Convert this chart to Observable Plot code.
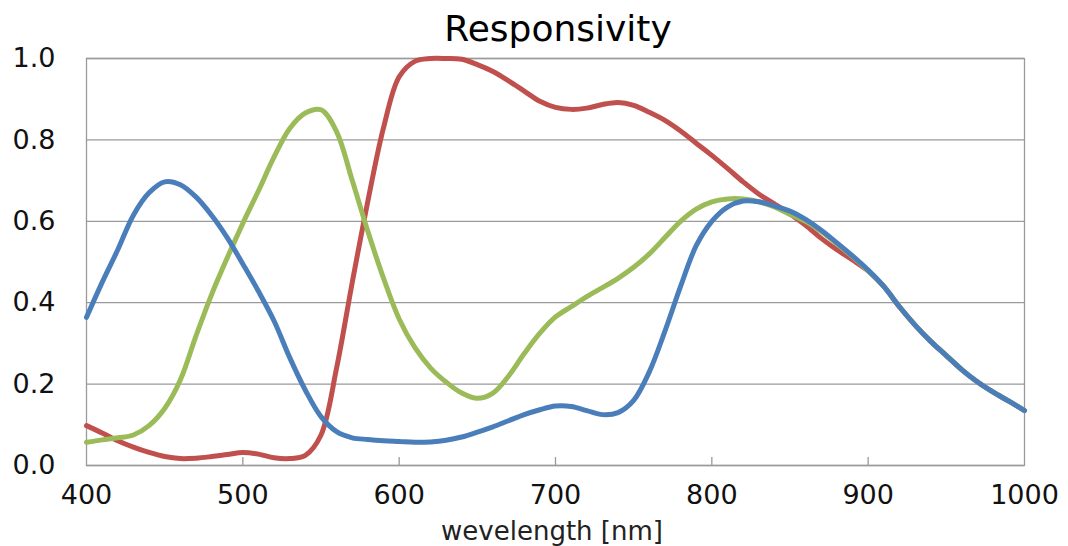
<!DOCTYPE html>
<html>
<head>
<meta charset="utf-8">
<script src="https://cdn.jsdelivr.net/npm/d3@7"></script>
<script src="https://cdn.jsdelivr.net/npm/@observablehq/plot@0.6"></script>
<style>
  html, body { margin: 0; padding: 0; background: #fff; }
  #wrap { position: relative; width: 1068px; height: 546px; font-family: "DejaVu Sans", sans-serif; }
  #title { position: absolute; left: 89px; width: 938px; top: 11px; text-align: center; font-size: 36px; line-height: 36px; color: #000; }
  #xlabel { position: absolute; left: 86px; width: 932px; top: 516px; text-align: center; font-size: 26px; line-height: 30px; color: #222; }
  svg { position: absolute; left: 0; top: 0; }
</style>
</head>
<body>
<div id="wrap">
  <div id="title">Responsivity</div>
  <div id="xlabel">wevelength [nm]</div>
</div>
<script>
const titleText = "Responsivity";
const xLabelText = "wevelength [nm]";
const xTicks = [400, 500, 600, 700, 800, 900, 1000];
const yTicks = [0, 0.2, 0.4, 0.6, 0.8, 1.0];
const seriesNames = ["red", "green", "blue"];

const wavelength = [400,410,420,430,440,450,460,470,480,490,500,510,520,530,540,550,560,570,580,590,600,
  610,620,630,640,650,660,670,680,690,700,710,720,730,740,750,760,770,780,790,800,
  810,820,830,840,850,860,870,880,890,900,910,920,930,940,950,960,970,980,990,1000];

const redValues = [0.098,0.080,0.061,0.045,0.032,0.022,0.017,0.018,0.022,0.027,0.032,0.028,0.019,0.017,0.025,0.075,0.24,0.45,0.65,0.83,0.955,
  0.993,1.0,1.0,0.998,0.985,0.968,0.945,0.92,0.895,0.88,0.875,0.878,0.887,0.892,0.885,0.868,0.848,0.822,0.792,0.762,
  0.73,0.697,0.667,0.643,0.618,0.59,0.558,0.53,0.505,0.478,0.44,0.39,0.345,0.305,0.27,0.235,0.205,0.18,0.158,0.135];

const greenValues = [0.057,0.063,0.068,0.075,0.098,0.14,0.21,0.318,0.42,0.51,0.595,0.675,0.758,0.828,0.866,0.874,0.82,0.70,0.575,0.46,0.36,
  0.29,0.24,0.205,0.178,0.165,0.178,0.22,0.275,0.325,0.365,0.39,0.415,0.437,0.46,0.487,0.52,0.56,0.60,0.63,0.648,
  0.655,0.655,0.648,0.635,0.617,0.60,0.575,0.545,0.513,0.478,0.44,0.39,0.345,0.305,0.27,0.235,0.205,0.18,0.158,0.135];

const blueValues = [0.364,0.45,0.53,0.615,0.67,0.697,0.69,0.66,0.615,0.56,0.495,0.428,0.355,0.265,0.185,0.12,0.083,0.068,0.064,0.061,0.059,
  0.057,0.058,0.062,0.07,0.082,0.095,0.11,0.125,0.137,0.146,0.145,0.135,0.125,0.13,0.16,0.23,0.33,0.44,0.54,0.60,
  0.635,0.65,0.648,0.638,0.625,0.605,0.578,0.547,0.515,0.48,0.44,0.39,0.345,0.305,0.27,0.235,0.205,0.18,0.158,0.135];

const colors = {red: "#C0504D", green: "#9BBB59", blue: "#4A7EBB"};
const valuesBySeries = {red: redValues, green: greenValues, blue: blueValues};

const data = seriesNames.flatMap(s => wavelength.map((w, i) => ({series: s, wl: w, v: valuesBySeries[s][i]})));

const W = 1068, H = 546, mL = 86, mR = 44, mT = 58, mB = 81;
const innerTicks = xTicks.slice(1, -1);

const chart = Plot.plot({
  width: W,
  height: H,
  marginLeft: mL,
  marginRight: mR,
  marginTop: mT,
  marginBottom: mB,
  style: {fontFamily: "DejaVu Sans, sans-serif", fontSize: "27px", color: "#111", background: "transparent", overflow: "visible"},
  x: {domain: [400, 1000]},
  y: {domain: [0, 1]},
  marks: [
    Plot.gridY(yTicks, {stroke: "#9a9a9a", strokeOpacity: 1, strokeWidth: 1.3}),
    Plot.frame({stroke: "#9a9a9a", strokeWidth: 1.3}),
    Plot.tickX(innerTicks, {x: d => d, stroke: "#9a9a9a", strokeOpacity: 1, strokeWidth: 1.3, insetTop: H - mT - mB - 8}),
    ...seriesNames.map(s => Plot.line(data.filter(d => d.series === s), {
      x: "wl", y: "v", stroke: colors[s], strokeWidth: 5, curve: "catmull-rom", strokeLinejoin: "round"
    })),
    Plot.axisX(xTicks, {tickSize: 0, tickPadding: 19, label: null, fontSize: 27, letterSpacing: 2, fill: "#111", tickFormat: d => String(d)}),
    Plot.axisY(yTicks, {tickSize: 0, tickPadding: 31, label: null, fontSize: 27, tickFormat: d3.format(".1f"), fill: "#111"})
  ]
});
document.getElementById("wrap").appendChild(chart);
</script>
</body>
</html>
